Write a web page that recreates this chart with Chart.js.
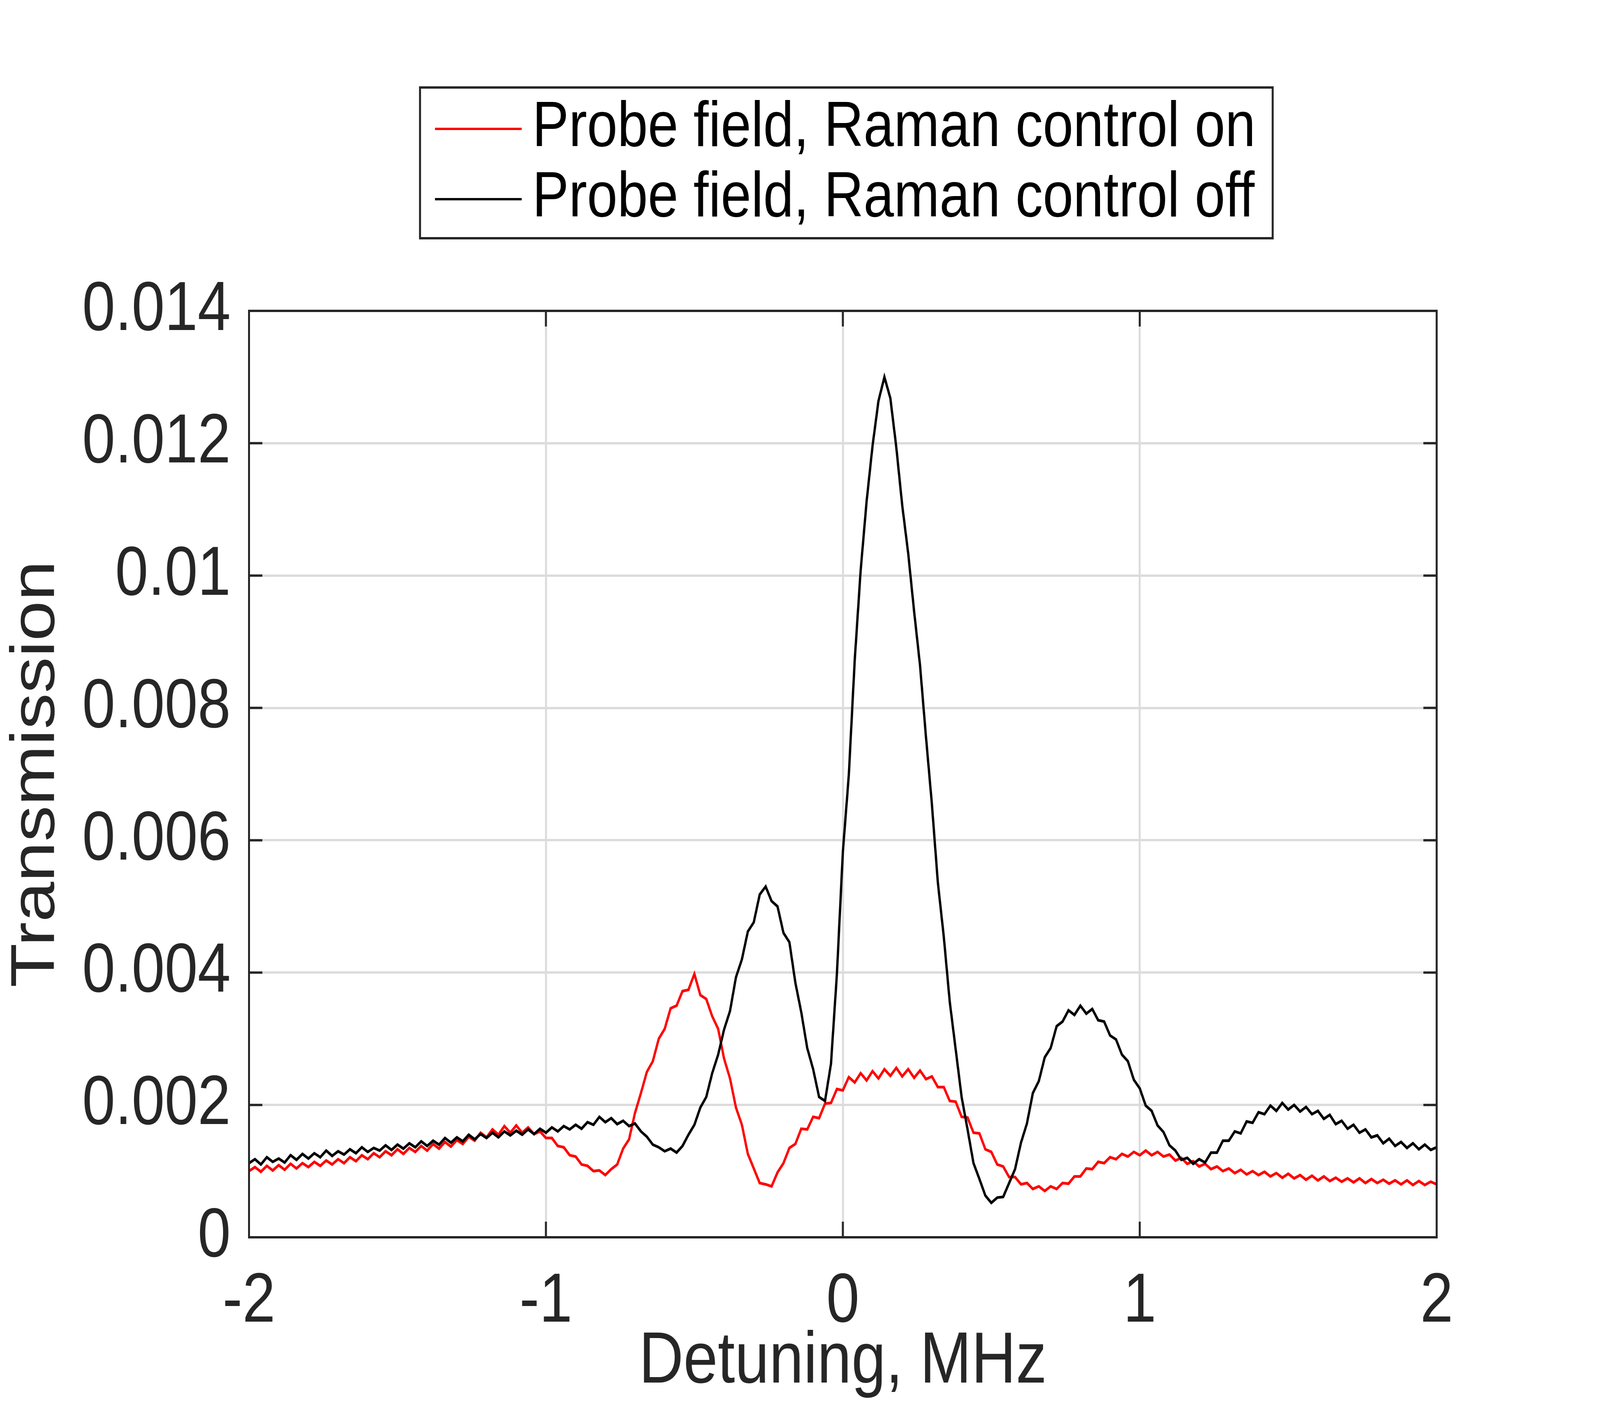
<!DOCTYPE html>
<html>
<head>
<meta charset="utf-8">
<script src="https://cdn.jsdelivr.net/npm/chart.js@4.4.1/dist/chart.umd.min.js"></script>
<style>
  html, body { margin: 0; padding: 0; background: #fff; overflow: hidden; }
  #outer { width: 4800px; height: 3600px; overflow: hidden; }
  #wrap { width: 4800px; height: 3600px; transform-origin: 0 0; }
</style>
</head>
<body>
<div id="outer"><div id="wrap"><canvas id="plot" width="4800" height="3600"></canvas></div></div>
<script>
// detuning grid, MHz
var detuning = [
  -2.00,-1.98,-1.96,-1.94,-1.92,-1.90,-1.88,-1.86,-1.84,-1.82,
  -1.80,-1.78,-1.76,-1.74,-1.72,-1.70,-1.68,-1.66,-1.64,-1.62,
  -1.60,-1.58,-1.56,-1.54,-1.52,-1.50,-1.48,-1.46,-1.44,-1.42,
  -1.40,-1.38,-1.36,-1.34,-1.32,-1.30,-1.28,-1.26,-1.24,-1.22,
  -1.20,-1.18,-1.16,-1.14,-1.12,-1.10,-1.08,-1.06,-1.04,-1.02,
  -1.00,-0.98,-0.96,-0.94,-0.92,-0.90,-0.88,-0.86,-0.84,-0.82,
  -0.80,-0.78,-0.76,-0.74,-0.72,-0.70,-0.68,-0.66,-0.64,-0.62,
  -0.60,-0.58,-0.56,-0.54,-0.52,-0.50,-0.48,-0.46,-0.44,-0.42,
  -0.40,-0.38,-0.36,-0.34,-0.32,-0.30,-0.28,-0.26,-0.24,-0.22,
  -0.20,-0.18,-0.16,-0.14,-0.12,-0.10,-0.08,-0.06,-0.04,-0.02,
   0.00, 0.02, 0.04, 0.06, 0.08, 0.10, 0.12, 0.14, 0.16, 0.18,
   0.20, 0.22, 0.24, 0.26, 0.28, 0.30, 0.32, 0.34, 0.36, 0.38,
   0.40, 0.42, 0.44, 0.46, 0.48, 0.50, 0.52, 0.54, 0.56, 0.58,
   0.60, 0.62, 0.64, 0.66, 0.68, 0.70, 0.72, 0.74, 0.76, 0.78,
   0.80, 0.82, 0.84, 0.86, 0.88, 0.90, 0.92, 0.94, 0.96, 0.98,
   1.00, 1.02, 1.04, 1.06, 1.08, 1.10, 1.12, 1.14, 1.16, 1.18,
   1.20, 1.22, 1.24, 1.26, 1.28, 1.30, 1.32, 1.34, 1.36, 1.38,
   1.40, 1.42, 1.44, 1.46, 1.48, 1.50, 1.52, 1.54, 1.56, 1.58,
   1.60, 1.62, 1.64, 1.66, 1.68, 1.70, 1.72, 1.74, 1.76, 1.78,
   1.80, 1.82, 1.84, 1.86, 1.88, 1.90, 1.92, 1.94, 1.96, 1.98,
   2.00
];

// probe transmission with the Raman control on (red)
var controlOn = [
  0.00100,0.00106,0.00099,0.00108,0.00101,0.00109,0.00102,0.00111,0.00104,0.00112,
  0.00106,0.00114,0.00108,0.00116,0.00110,0.00118,0.00112,0.00121,0.00115,0.00124,
  0.00118,0.00127,0.00121,0.00130,0.00124,0.00133,0.00126,0.00135,0.00129,0.00138,
  0.00131,0.00141,0.00134,0.00144,0.00137,0.00147,0.00141,0.00152,0.00146,0.00158,
  0.00151,0.00163,0.00155,0.00168,0.00158,0.00169,0.00158,0.00166,0.00156,0.00160,
  0.00150,0.00150,0.00138,0.00136,0.00124,0.00122,0.00110,0.00108,0.00100,0.00101,
  0.00094,0.00103,0.00110,0.00134,0.00148,0.00188,0.00218,0.00250,0.00266,0.00300,
  0.00315,0.00346,0.00350,0.00372,0.00374,0.00398,0.00366,0.00360,0.00334,0.00315,
  0.00270,0.00240,0.00196,0.00170,0.00126,0.00104,0.00082,0.00080,0.00077,0.00098,
  0.00112,0.00135,0.00141,0.00164,0.00163,0.00182,0.00180,0.00202,0.00203,0.00224,
  0.00222,0.00242,0.00234,0.00248,0.00237,0.00251,0.00240,0.00254,0.00244,0.00256,
  0.00243,0.00254,0.00241,0.00252,0.00239,0.00243,0.00227,0.00227,0.00206,0.00205,
  0.00182,0.00181,0.00158,0.00157,0.00133,0.00129,0.00110,0.00107,0.00091,0.00091,
  0.00080,0.00082,0.00073,0.00077,0.00070,0.00077,0.00073,0.00082,0.00081,0.00092,
  0.00092,0.00104,0.00103,0.00114,0.00112,0.00121,0.00118,0.00126,0.00122,0.00129,
  0.00124,0.00131,0.00124,0.00129,0.00122,0.00125,0.00116,0.00120,0.00111,0.00115,
  0.00107,0.00111,0.00103,0.00107,0.00100,0.00104,0.00097,0.00102,0.00095,0.00100,
  0.00094,0.00099,0.00092,0.00097,0.00090,0.00096,0.00089,0.00094,0.00087,0.00093,
  0.00086,0.00092,0.00085,0.00090,0.00084,0.00089,0.00083,0.00089,0.00082,0.00088,
  0.00082,0.00087,0.00081,0.00086,0.00080,0.00086,0.00079,0.00085,0.00079,0.00084,
  0.00080
];

// probe transmission with the Raman control off (black)
var controlOff = [
  0.00112,0.00118,0.00110,0.00121,0.00114,0.00119,0.00113,0.00124,0.00117,0.00126,
  0.00119,0.00127,0.00121,0.00131,0.00123,0.00130,0.00125,0.00133,0.00127,0.00136,
  0.00129,0.00135,0.00131,0.00139,0.00132,0.00140,0.00134,0.00142,0.00136,0.00145,
  0.00138,0.00146,0.00140,0.00150,0.00143,0.00151,0.00145,0.00155,0.00148,0.00156,
  0.00150,0.00158,0.00151,0.00160,0.00154,0.00161,0.00155,0.00163,0.00156,0.00164,
  0.00158,0.00166,0.00160,0.00168,0.00163,0.00170,0.00164,0.00174,0.00170,0.00182,
  0.00174,0.00180,0.00171,0.00176,0.00168,0.00172,0.00160,0.00152,0.00140,0.00136,
  0.00130,0.00134,0.00128,0.00138,0.00155,0.00170,0.00196,0.00212,0.00248,0.00276,
  0.00314,0.00342,0.00393,0.00420,0.00462,0.00476,0.00518,0.00530,0.00508,0.00500,
  0.00460,0.00446,0.00385,0.00340,0.00286,0.00254,0.00212,0.00206,0.00262,0.00398,
  0.00582,0.00698,0.00872,0.01008,0.01112,0.01196,0.01264,0.01300,0.01268,0.01194,
  0.01106,0.01034,0.00946,0.00864,0.00756,0.00654,0.00536,0.00454,0.00356,0.00284,
  0.00212,0.00163,0.00112,0.00088,0.00063,0.00052,0.00060,0.00061,0.00082,0.00103,
  0.00143,0.00172,0.00218,0.00236,0.00272,0.00286,0.00319,0.00326,0.00343,0.00336,
  0.00350,0.00338,0.00345,0.00328,0.00326,0.00305,0.00299,0.00276,0.00266,0.00238,
  0.00225,0.00199,0.00191,0.00169,0.00159,0.00139,0.00131,0.00117,0.00120,0.00111,
  0.00118,0.00113,0.00128,0.00128,0.00146,0.00146,0.00160,0.00157,0.00175,0.00173,
  0.00189,0.00186,0.00199,0.00191,0.00203,0.00193,0.00200,0.00190,0.00197,0.00186,
  0.00191,0.00179,0.00185,0.00171,0.00176,0.00164,0.00170,0.00158,0.00163,0.00151,
  0.00154,0.00142,0.00149,0.00138,0.00144,0.00135,0.00142,0.00133,0.00140,0.00132,
  0.00136
];

var seriesNames = ["Probe field, Raman control on", "Probe field, Raman control off"];
var xTicks = [-2, -1, 0, 1, 2];
var xTickLabels = ["-2", "-1", "0", "1", "2"];
var yTicks = [0, 0.002, 0.004, 0.006, 0.008, 0.01, 0.012, 0.014];
var yTickLabels = ["0", "0.002", "0.004", "0.006", "0.008", "0.01", "0.012", "0.014"];

var FONT = "'Liberation Sans', Arial, Helvetica, sans-serif";
var INK = "#262626";

// the browser caps the window at 4096 css px wide; stretch the 4800x3600
// drawing onto whatever viewport we really get
var sx = window.innerWidth / 4800, sy = window.innerHeight / 3600;
if (sx > 0 && sy > 0 && (Math.abs(sx - 1) > 0.001 || Math.abs(sy - 1) > 0.001)){
  var outer = document.getElementById("outer");
  outer.style.width = (4800 * sx) + "px";
  outer.style.height = (3600 * sy) + "px";
  document.getElementById("wrap").style.transform = "scale(" + sx + "," + sy + ")";
}

function pairs(xs, ys){
  var out = [];
  for (var i = 0; i < xs.length; i++){
    out.push({x: xs[i], y: ys[i]});
  }
  return out;
}

// box around the axes, inward ticks on all four sides, boxed legend
var matlabAxes = {
  id: 'matlabAxes',
  afterDraw: function(chart){
    var ctx = chart.ctx;
    var a = chart.chartArea;
    var xs = chart.scales.x, ys = chart.scales.y;
    var tl = 40;
    ctx.save();
    ctx.strokeStyle = INK;
    ctx.lineWidth = 6;
    ctx.beginPath();
    xTicks.forEach(function(v){
      var p = xs.getPixelForValue(v);
      ctx.moveTo(p, a.bottom); ctx.lineTo(p, a.bottom - tl);
      ctx.moveTo(p, a.top); ctx.lineTo(p, a.top + tl);
    });
    yTicks.forEach(function(v){
      var p = ys.getPixelForValue(v);
      ctx.moveTo(a.left, p); ctx.lineTo(a.left + tl, p);
      ctx.moveTo(a.right, p); ctx.lineTo(a.right - tl, p);
    });
    ctx.stroke();
    ctx.strokeRect(a.left, a.top, a.right - a.left, a.bottom - a.top);

    // legend
    var lx = 1260, ly = 224, lw = 2558, lh = 386;
    ctx.fillStyle = "#fff";
    ctx.fillRect(lx, ly, lw, lh);
    ctx.lineWidth = 6;
    ctx.strokeRect(lx, ly, lw, lh);
    var rows = [330, 510];
    chart.data.datasets.forEach(function(ds, i){
      ctx.strokeStyle = ds.borderColor;
      ctx.lineWidth = 6;
      ctx.beginPath();
      ctx.moveTo(1305, rows[i]); ctx.lineTo(1565, rows[i]);
      ctx.stroke();
      ctx.fillStyle = "#000";
      ctx.font = "164px " + FONT;
      ctx.textAlign = "left";
      ctx.textBaseline = "alphabetic";
      ctx.fillText(ds.label, 1597, rows[i] + 44);
    });
    ctx.restore();
  }
};

var ctx = document.getElementById("plot");
var myChart = new Chart(ctx, {
  type: 'line',
  data: {
    datasets: [
      {
        label: seriesNames[0],
        data: pairs(detuning, controlOn),
        borderColor: "#ff0000",
        borderWidth: 7,
        pointRadius: 0,
        fill: false,
        order: 1
      },
      {
        label: seriesNames[1],
        data: pairs(detuning, controlOff),
        borderColor: "#000000",
        borderWidth: 7,
        pointRadius: 0,
        fill: false,
        order: 0
      }
    ]
  },
  options: {
    responsive: false,
    animation: false,
    devicePixelRatio: 1,
    layout: { padding: { left: 0, top: 796, right: 490, bottom: 0 } },
    plugins: {
      legend: { display: false },
      tooltip: { enabled: false }
    },
    scales: {
      x: {
        type: 'linear',
        min: -2,
        max: 2,
        afterFit: function(s){ s.height = 432; },
        afterBuildTicks: function(s){ s.ticks = xTicks.map(function(v){ return {value: v}; }); },
        border: { display: false },
        grid: { color: "#dcdcdc", lineWidth: 6, drawTicks: false },
        ticks: {
          color: INK,
          padding: 60,
          font: { family: FONT, size: 178 },
          callback: function(v, i){ return xTickLabels[i]; }
        },
        title: {
          display: true,
          text: "Detuning, MHz",
          color: INK,
          font: { family: FONT, size: 185 },
          padding: { top: 0, bottom: 0 }
        }
      },
      y: {
        type: 'linear',
        min: 0,
        max: 0.014,
        afterFit: function(s){ s.width = 747; },
        afterBuildTicks: function(s){ s.ticks = yTicks.map(function(v){ return {value: v}; }); },
        border: { display: false },
        grid: { color: "#dcdcdc", lineWidth: 6, drawTicks: false },
        ticks: {
          color: INK,
          padding: 55,
          font: { family: FONT, size: 178 },
          callback: function(v, i){ return yTickLabels[i]; }
        },
        title: {
          display: true,
          text: "Transmission",
          color: INK,
          font: { family: FONT, size: 185 },
          padding: { top: 0, bottom: 0 }
        }
      }
    }
  },
  plugins: [matlabAxes]
});
</script>
</body>
</html>
